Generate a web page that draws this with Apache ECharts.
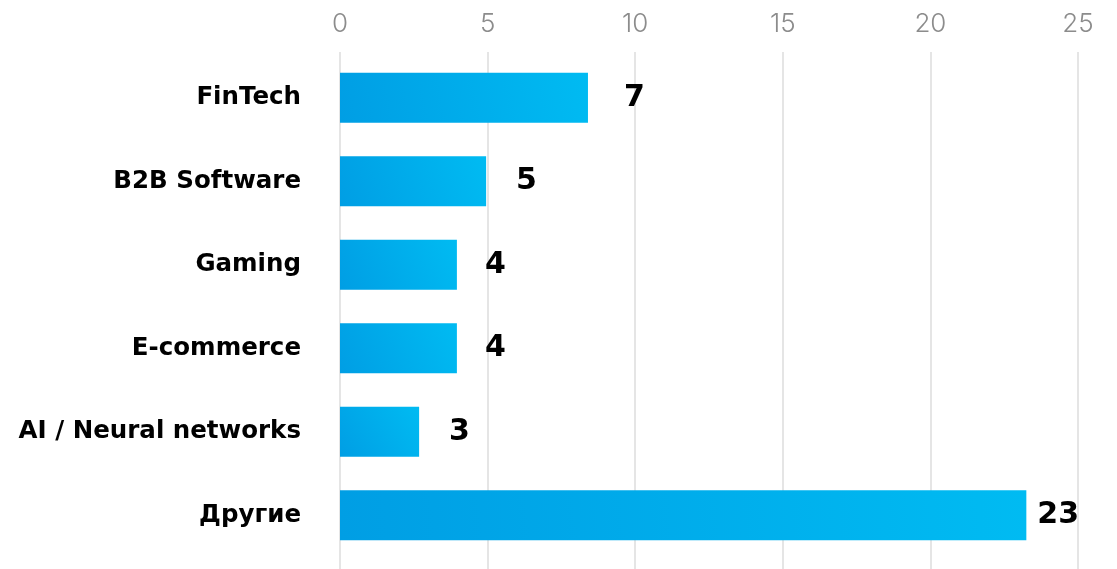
<!DOCTYPE html>
<html>
<head>
<meta charset="utf-8">
<style>
html,body{margin:0;padding:0;background:#fff;}
#c{width:1117px;height:569px;}
</style>
<script src="https://cdn.jsdelivr.net/npm/echarts@6/dist/echarts.min.js"></script>
</head>
<body>
<div id="c"></div>
<script>
const categories = ["FinTech", "B2B Software", "Gaming", "E-commerce", "AI / Neural networks", "Другие"];
const barValues = [8.4, 4.95, 3.96, 3.96, 2.68, 23.25];
const valueLabels = ["7", "5", "4", "4", "3", "23"];
const tickMax = 25;
const tickStep = 5;

const labelGap = [36, 30, 28, 28, 30, 11];
const font = "DejaVu Sans";

const chart = echarts.init(document.getElementById('c'));
const grad = new echarts.graphic.LinearGradient(0, 1, 1, 0, [
  {offset: 0, color: '#009ee4'},
  {offset: 1, color: '#00bbf2'}
]);
chart.setOption({
  animation: false,
  grid: [
    {left: 340, right: 39, top: 56, bottom: 12},
    {left: 340, right: 39, top: 52, bottom: 0}
  ],
  xAxis: [
    {
      gridIndex: 0, type: 'value', position: 'top', min: 0, max: tickMax, interval: tickStep,
      axisLine: {show: false}, axisTick: {show: false},
      splitLine: {show: false},
      axisLabel: {margin: 19, color: '#8c8c8c', fontSize: 26, fontFamily: 'Inter', fontWeight: 300}
    },
    {
      gridIndex: 1, type: 'value', position: 'top', min: 0, max: tickMax, interval: tickStep,
      axisLine: {show: false}, axisTick: {show: false}, axisLabel: {show: false},
      splitLine: {show: true, lineStyle: {color: '#dcdcdc', width: 1.5}}
    }
  ],
  yAxis: [
    {
      gridIndex: 0, type: 'category', data: categories, inverse: true,
      axisLine: {show: false}, axisTick: {show: false},
      axisLabel: {margin: 39, color: '#000', fontSize: 24.5, fontWeight: 'bold', fontFamily: font}
    },
    {
      gridIndex: 1, type: 'category', data: categories, show: false
    }
  ],
  series: [{
    type: 'bar',
    xAxisIndex: 0, yAxisIndex: 0,
    data: barValues.map((v, i) => ({
      value: v,
      label: {distance: labelGap[i]}
    })),
    barWidth: 50,
    itemStyle: {color: grad},
    label: {
      show: true, position: 'right',
      formatter: p => valueLabels[p.dataIndex],
      color: '#000', fontSize: 30, fontWeight: 'bold', fontFamily: font
    }
  }]
});
</script>
</body>
</html>
